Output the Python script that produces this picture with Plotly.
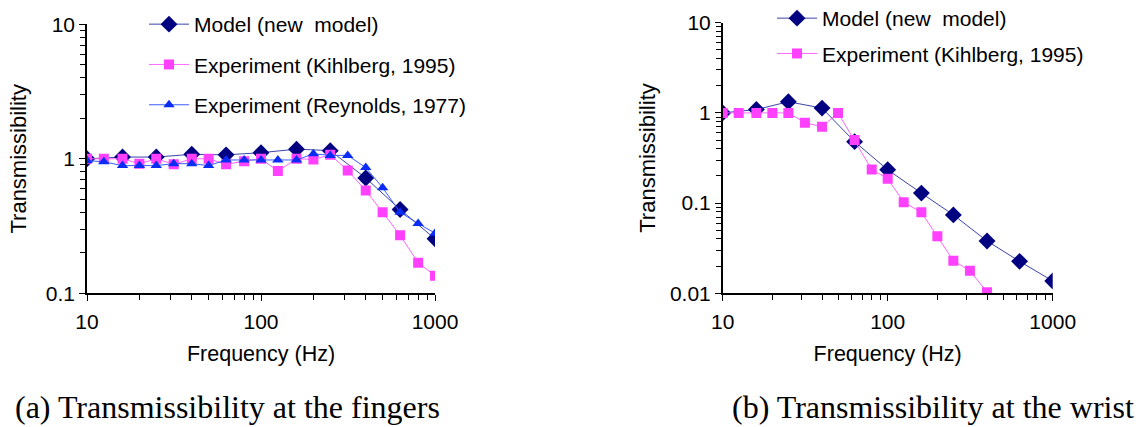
import plotly.graph_objects as go

# ---------------- data ----------------
# (a) fingers
freq_model_a = [10, 16, 25, 40, 63, 100, 160, 250, 400, 630, 1000]
model_a = [1.0, 1.03, 1.03, 1.08, 1.07, 1.11, 1.18, 1.15, 0.72, 0.42, 0.254]

freq_third = [10, 12.5, 16, 20, 25, 31.5, 40, 50, 63, 80, 100, 125, 160, 200, 250,
              315, 400, 500, 630, 800, 1000]
kihlberg_a = [1.0, 1.0, 1.0, 0.92, 1.0, 0.91, 1.0, 1.0, 0.91, 0.96, 1.0, 0.81, 1.0, 0.99, 1.07,
              0.82, 0.58, 0.40, 0.27, 0.169, 0.135]
reynolds_a = [0.97, 0.95, 0.89, 0.89, 0.89, 0.92, 0.92, 0.89, 0.98, 0.98, 0.98, 0.98, 0.98, 1.09, 1.06,
              1.06, 0.86, 0.61, 0.40, 0.33, 0.28]

# (b) wrist
freq_model_b = [10, 16, 25, 40, 63, 100, 160, 250, 400, 630, 1000]
model_b = [1.0, 1.09, 1.33, 1.13, 0.48, 0.234, 0.129, 0.074, 0.038, 0.0226, 0.0137]

freq_kihlberg_b = [10, 12.5, 16, 20, 25, 31.5, 40, 50, 63, 80, 100, 125, 160, 200, 250, 315, 400, 500]
kihlberg_b = [1.0, 1.0, 1.0, 1.0, 1.0, 0.78, 0.70, 1.0, 0.50, 0.236, 0.186, 0.1025, 0.079, 0.043,
              0.023, 0.0178, 0.0103, 0.007]

x_ticks = [10, 100, 1000]
x_minor = [20, 30, 40, 50, 60, 70, 80, 90, 200, 300, 400, 500, 600, 700, 800, 900]
y_ticks_a = [0.1, 1, 10]
y_minor_a = [0.2, 0.3, 0.4, 0.5, 0.6, 0.7, 0.8, 0.9, 2, 3, 4, 5, 6, 7, 8, 9]
y_ticks_b = [0.01, 0.1, 1, 10]
y_minor_b = [0.02, 0.03, 0.04, 0.05, 0.06, 0.07, 0.08, 0.09] + y_minor_a

x_title = "Frequency (Hz)"
y_title = "Transmissibility"
name_model = "Model (new  model)"
name_kihl = "Experiment (Kihlberg, 1995)"
name_reyn = "Experiment (Reynolds, 1977)"
caption_a = "(a) Transmissibility at the fingers"
caption_b = "(b) Transmissibility at the wrist"

# ---------------- styles ----------------
FONT = "Liberation Sans, Arial, sans-serif"
SERIF = "Liberation Serif, Times New Roman, serif"
NAVY = "#000080"
NAVY_LINE = "#3a44a8"
MAG = "#ff40ff"
MAG_LINE = "#ff66ff"
BLUE = "#0a2cf5"
BLUE_LINE = "#3a5cff"

W, H = 1138, 427


def px_x(p):
    return p / W


def px_y(p):
    return 1 - p / H


fig = go.Figure()

model_style = dict(mode="lines+markers", line=dict(color=NAVY_LINE, width=1),
                   marker=dict(symbol="diamond", size=13, color=NAVY))
kihl_style = dict(mode="lines+markers", line=dict(color=MAG_LINE, width=1),
                  marker=dict(symbol="square", size=10, color=MAG))
reyn_style = dict(mode="lines+markers", line=dict(color=BLUE_LINE, width=1),
                  marker=dict(symbol="triangle-up", size=10, color=BLUE))

# panel (a)
fig.add_trace(go.Scatter(x=freq_model_a, y=model_a, name=name_model, xaxis="x", yaxis="y",
                         legend="legend", legendgroup="a1", **model_style))
fig.add_trace(go.Scatter(x=freq_third, y=kihlberg_a, name=name_kihl, xaxis="x", yaxis="y",
                         legend="legend", legendgroup="a2", **kihl_style))
fig.add_trace(go.Scatter(x=freq_third, y=reynolds_a, name=name_reyn, xaxis="x", yaxis="y",
                         legend="legend", legendgroup="a3", **reyn_style))
# panel (b)
fig.add_trace(go.Scatter(x=freq_model_b, y=model_b, name=name_model, xaxis="x2", yaxis="y2",
                         legend="legend2", legendgroup="b1", **model_style))
fig.add_trace(go.Scatter(x=freq_kihlberg_b, y=kihlberg_b, name=name_kihl, xaxis="x2", yaxis="y2",
                         legend="legend2", legendgroup="b2", **kihl_style))

tickfont = dict(family=FONT, size=21, color="black")
xtitlefont = dict(family=FONT, size=21.5, color="black")
ytitlefont = dict(family=FONT, size=22, color="black")

common_x = dict(type="log", range=[1, 3], tickmode="array", tickvals=x_ticks,
                ticktext=[str(v) for v in x_ticks], automargin=False,
                showline=True, linecolor="black", linewidth=1.5, ticks="outside", ticklen=6,
                tickcolor="black", tickwidth=1, showgrid=False, zeroline=False, ticklabelstandoff=3,
                minor=dict(ticks="outside", ticklen=5, tickcolor="black", tickwidth=1,
                           showgrid=False, tickmode="array", tickvals=x_minor),
                tickfont=tickfont, title=dict(text=x_title, font=xtitlefont, standoff=14))

common_y = dict(type="log", showline=True, linecolor="black", linewidth=1.5, ticks="outside", ticklen=6,
                tickcolor="black", tickwidth=1, showgrid=False, zeroline=False, automargin=False,
                tickmode="array", tickfont=tickfont)

fig.update_layout(
    template="none",
    width=W, height=H,
    margin=dict(l=0, r=0, t=0, b=0, autoexpand=False),
    paper_bgcolor="white", plot_bgcolor="white",
    font=dict(family=FONT, size=20, color="black"),
    showlegend=True,
    xaxis=dict(domain=[px_x(87), px_x(435)], anchor="y", **common_x),
    yaxis=dict(domain=[px_y(293.3), px_y(24.3)], anchor="x", range=[-1, 1],
               tickvals=y_ticks_a, ticktext=["0.1", "1", "10"],
               minor=dict(ticks="outside", ticklen=5, tickcolor="black", tickwidth=1,
                          showgrid=False, tickmode="array", tickvals=y_minor_a),
               title=dict(text=y_title, font=ytitlefont, standoff=13), **common_y),
    xaxis2=dict(domain=[px_x(722.7), px_x(1052.7)], anchor="y2", **common_x),
    yaxis2=dict(domain=[px_y(293.3), px_y(22.7)], anchor="x2", range=[-2, 1],
                tickvals=y_ticks_b, ticktext=["0.01", "0.1", "1", "10"],
                minor=dict(ticks="outside", ticklen=5, tickcolor="black", tickwidth=1,
                           showgrid=False, tickmode="array", tickvals=y_minor_b),
                title=dict(text=y_title, font=ytitlefont, standoff=8), **common_y),
    legend=dict(x=px_x(144), y=px_y(4), xanchor="left", yanchor="top",
                bgcolor="rgba(0,0,0,0)", font=dict(family=FONT, size=21, color="black"),
                tracegroupgap=10, itemwidth=40),
    legend2=dict(x=px_x(772), y=px_y(-2), xanchor="left", yanchor="top",
                 bgcolor="rgba(0,0,0,0)", font=dict(family=FONT, size=21, color="black"),
                 tracegroupgap=5, itemwidth=40),
    annotations=[
        dict(text=caption_a, xref="paper", yref="paper", x=px_x(13), y=px_y(407),
             xanchor="left", yanchor="middle", showarrow=False,
             font=dict(family=SERIF, size=32, color="black")),
        dict(text=caption_b, xref="paper", yref="paper", x=px_x(1136), y=px_y(407),
             xanchor="right", yanchor="middle", showarrow=False,
             font=dict(family=SERIF, size=32, color="black")),
    ],
)

fig.write_html("out.html", config={"displayModeBar": False},
               post_script="document.body.style.margin='0';document.body.style.overflow='hidden';")
